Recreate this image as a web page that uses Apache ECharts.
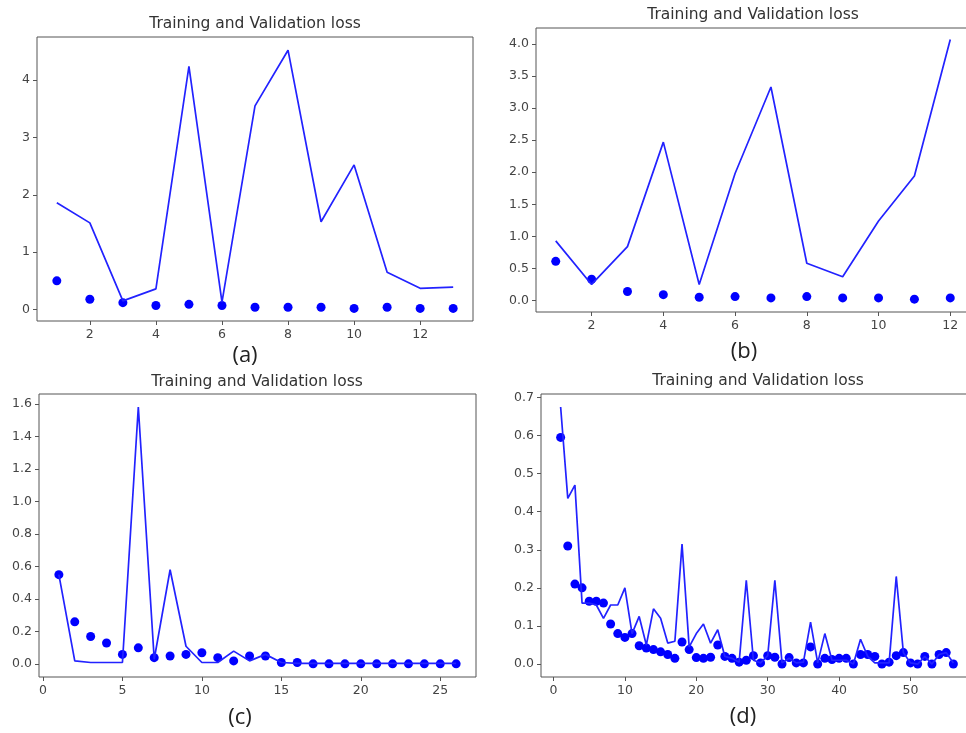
<!DOCTYPE html>
<html><head><meta charset="utf-8">
<script src="https://cdn.jsdelivr.net/npm/echarts@6/dist/echarts.min.js"></script>
<style>html,body{margin:0;padding:0;background:#fff}#c{width:966px;height:733px}</style>
</head><body><div id="c"></div>
<script>
// ---------- data ----------
const titleText = "Training and Validation loss";
const captions = ["(a)", "(b)", "(c)", "(d)"];

const epochsA = [1,2,3,4,5,6,7,8,9,10,11,12,13];
const trainA  = [0.50,0.18,0.12,0.07,0.09,0.07,0.04,0.04,0.04,0.02,0.04,0.02,0.02];
const valA    = [1.86,1.51,0.15,0.36,4.24,0.13,3.55,4.52,1.53,2.52,0.65,0.37,0.39];
const xTicksA = [2,4,6,8,10,12];
const yTicksA = [0,1,2,3,4];

const epochsB = [1,2,3,4,5,6,7,8,9,10,11,12];
const trainB  = [0.61,0.33,0.14,0.09,0.05,0.06,0.04,0.06,0.04,0.04,0.02,0.04];
const valB    = [0.93,0.25,0.84,2.47,0.25,1.98,3.33,0.58,0.37,1.24,1.94,4.07];
const xTicksB = [2,4,6,8,10,12];
const yTicksB = [0,0.5,1,1.5,2,2.5,3,3.5,4];

const epochsC = [1,2,3,4,5,6,7,8,9,10,11,12,13,14,15,16,17,18,19,20,21,22,23,24,25,26];
const trainC  = [0.55,0.26,0.17,0.13,0.06,0.10,0.04,0.05,0.06,0.07,0.04,0.02,0.05,0.05,0.01,0.01,0.002,0.002,0.002,0.002,0.002,0.002,0.002,0.002,0.002,0.002];
const valC    = [0.55,0.02,0.01,0.01,0.01,1.58,0.03,0.58,0.11,0.01,0.01,0.08,0.02,0.06,0.01,0.005,0.005,0.005,0.005,0.005,0.005,0.005,0.005,0.005,0.005,0.005];
const xTicksC = [0,5,10,15,20,25];
const yTicksC = [0,0.2,0.4,0.6,0.8,1.0,1.2,1.4,1.6];

const epochsD = [1,2,3,4,5,6,7,8,9,10,11,12,13,14,15,16,17,18,19,20,21,22,23,24,25,26,27,28,29,30,31,32,33,34,35,36,37,38,39,40,41,42,43,44,45,46,47,48,49,50,51,52,53,54,55,56];
const trainD  = [0.595,0.31,0.21,0.20,0.165,0.165,0.16,0.105,0.08,0.07,0.08,0.048,0.042,0.038,0.032,0.025,0.015,0.058,0.038,0.017,0.015,0.018,0.05,0.02,0.015,0.005,0.01,0.022,0.003,0.022,0.018,0.0,0.017,0.003,0.003,0.045,0.0,0.015,0.012,0.015,0.015,0.0,0.025,0.025,0.02,0.0,0.005,0.022,0.03,0.003,0.0,0.02,0.0,0.025,0.03,0.0];
const valD    = [0.675,0.435,0.47,0.16,0.16,0.155,0.12,0.155,0.155,0.20,0.08,0.125,0.05,0.145,0.12,0.055,0.06,0.315,0.045,0.08,0.105,0.055,0.09,0.02,0.015,0.005,0.22,0.01,0.003,0.022,0.22,0.003,0.015,0.003,0.005,0.11,0.003,0.08,0.01,0.01,0.01,0.0,0.065,0.02,0.003,0.003,0.003,0.23,0.03,0.003,0.0,0.02,0.0,0.025,0.03,0.003];
const xTicksD = [0,10,20,30,40,50];
const yTicksD = [0,0.1,0.2,0.3,0.4,0.5,0.6,0.7];

// ---------- layout ----------
const panels = [
  {ep: epochsA, tr: trainA, va: valA, xt: xTicksA, yt: yTicksA, dec: 0,
   box: {left: 37, top: 37, width: 436, height: 284}, xr: [0.4, 13.6], yr: [-0.2, 4.75],
   title: [255, 24], cap: [245, 356]},
  {ep: epochsB, tr: trainB, va: valB, xt: xTicksB, yt: yTicksB, dec: 1,
   box: {left: 536, top: 28, width: 434, height: 284}, xr: [0.45, 12.55], yr: [-0.18, 4.25],
   title: [753, 15], cap: [744, 352]},
  {ep: epochsC, tr: trainC, va: valC, xt: xTicksC, yt: yTicksC, dec: 1,
   box: {left: 39, top: 394, width: 437, height: 283}, xr: [-0.25, 27.25], yr: [-0.079, 1.66],
   title: [257, 382], cap: [240, 718]},
  {ep: epochsD, tr: trainD, va: valD, xt: xTicksD, yt: yTicksD, dec: 1,
   box: {left: 541, top: 394, width: 432, height: 283}, xr: [-1.75, 58.75], yr: [-0.034, 0.709],
   title: [758, 381], cap: [743, 717]}
];

const FONT = '"DejaVu Sans", sans-serif';
const BLUE = '#0000ff';
const grids = [], xAxes = [], yAxes = [], series = [], graphics = [];

panels.forEach((p, i) => {
  grids.push(Object.assign({show: true, borderColor: '#555', borderWidth: 1,
    backgroundColor: 'transparent', containLabel: false, outerBoundsMode: 'none'}, p.box));
  const common = {
    gridIndex: i, type: 'value', splitLine: {show: false},
    axisLine: {show: false, onZero: false}
  };
  xAxes.push(Object.assign({}, common, {
    min: p.xr[0], max: p.xr[1],
    axisTick: {show: true, length: 4, lineStyle: {color: '#555'}, customValues: p.xt},
    axisLabel: {customValues: p.xt, color: '#444', fontSize: 12.5, fontFamily: FONT, margin: 7,
      formatter: v => String(Math.round(v))}
  }));
  yAxes.push(Object.assign({}, common, {
    min: p.yr[0], max: p.yr[1],
    axisTick: {show: true, length: 4, lineStyle: {color: '#555'}, customValues: p.yt},
    axisLabel: {customValues: p.yt, color: '#444', fontSize: 12.5, fontFamily: FONT, margin: 7,
      formatter: v => Number(v).toFixed(p.dec)}
  }));
  series.push({
    type: 'scatter', xAxisIndex: i, yAxisIndex: i, symbol: 'circle', symbolSize: 9,
    itemStyle: {color: BLUE, opacity: 1}, data: p.ep.map((e, k) => [e, p.tr[k]]), z: 2
  });
  series.push({
    type: 'line', xAxisIndex: i, yAxisIndex: i, symbol: 'none', showSymbol: false,
    lineStyle: {color: '#2222ff', width: 1.7}, data: p.ep.map((e, k) => [e, p.va[k]]), z: 3
  });
  graphics.push({type: 'text', x: p.title[0], y: p.title[1], style: {
    text: titleText, font: '15.5px ' + FONT, fill: '#333', textAlign: 'center', textVerticalAlign: 'middle'}});
  graphics.push({type: 'text', x: p.cap[0], y: p.cap[1], style: {
    text: captions[i], font: '22px "Open Sans", sans-serif', fill: '#222', textAlign: 'center', textVerticalAlign: 'middle'}});
});

const chart = echarts.init(document.getElementById('c'), null, {renderer: 'canvas'});
chart.setOption({
  animation: false, backgroundColor: '#fff',
  grid: grids, xAxis: xAxes, yAxis: yAxes, series: series, graphic: graphics
});
</script></body></html>
